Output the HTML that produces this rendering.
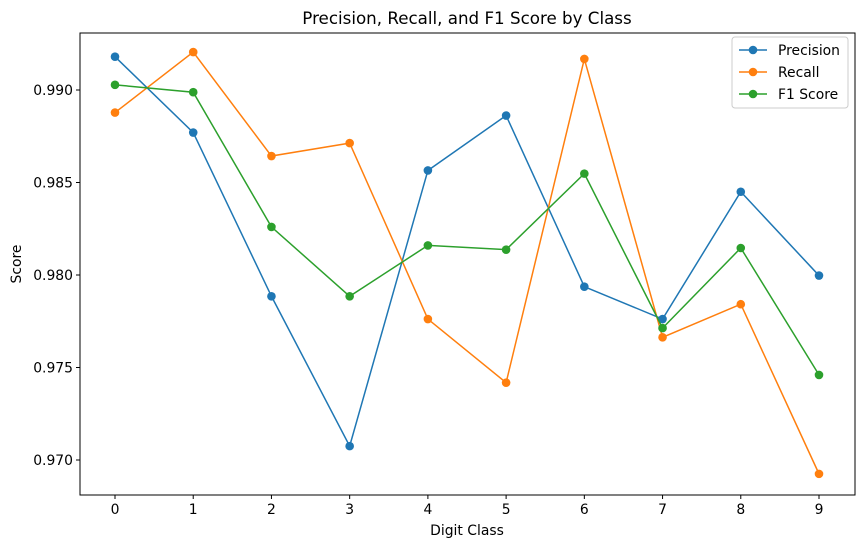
<!DOCTYPE html>
<html><head><meta charset="utf-8"><style>
body{margin:0;background:#fff;font-family:"Liberation Sans","DejaVu Sans",sans-serif}
text{font-family:"DejaVu Sans","Liberation Sans",sans-serif}
</style></head><body>
<svg id="chart" width="863" height="547" xmlns="http://www.w3.org/2000/svg"></svg>
<script>
const categories=[0,1,2,3,4,5,6,7,8,9];
const precision=[0.99180,0.98770,0.97885,0.97075,0.98565,0.98862,0.97937,0.97762,0.98450,0.97997];
const recall=[0.98878,0.99205,0.98643,0.98713,0.97762,0.97418,0.99168,0.97663,0.97842,0.96925];
const f1=[0.99028,0.98988,0.98260,0.97885,0.98160,0.98137,0.98548,0.97713,0.98146,0.97460];
const yTicks=[0.970,0.975,0.980,0.985,0.990];
const seriesNames=["Precision","Recall","F1 Score"];
const colors=["#1f77b4","#ff7f0e","#2ca02c"];
const L=80,R=855,T=33,B=495;
const x=v=>115+(v-0)*(819-115)/9;
const y=v=>460-(v-0.970)*(460-90)/0.020;
const svg=document.getElementById('chart');
const NS="http://www.w3.org/2000/svg";
function mk(t,a,p){const e=document.createElementNS(NS,t);for(const k in a)e.setAttribute(k,a[k]);(p||svg).appendChild(e);return e;}
let e;
e=mk('rect',{x:L,y:T,width:R-L,height:B-T,fill:'none',stroke:'#000','stroke-width':1});


categories.forEach(c=>{
 mk('line',{x1:x(c),x2:x(c),y1:B,y2:B+4,stroke:'#000'});
 e=mk('text',{x:x(c),y:B+19,'text-anchor':'middle','font-size':13.9,fill:'#000'});e.textContent=c;
 
 
});
yTicks.forEach(t=>{
 mk('line',{x1:L-4,x2:L,y1:y(t),y2:y(t),stroke:'#000'});
 e=mk('text',{x:L-7,y:y(t)+5,'text-anchor':'end','font-size':13.9,fill:'#000'});e.textContent=t.toFixed(3);
 
 
});
e=mk('text',{x:467,y:24,'text-anchor':'middle','font-size':16.7});e.textContent='Precision, Recall, and F1 Score by Class';


e=mk('text',{x:467,y:535,'text-anchor':'middle','font-size':13.9});e.textContent='Digit Class';


e=mk('text',{x:21,y:264,'text-anchor':'middle','font-size':13.9,transform:'rotate(-90 21 264)'});e.textContent='Score';


[precision,recall,f1].forEach((s,i)=>{
 const g=mk('g',{});
 
 
 mk('polyline',{points:s.map((v,j)=>x(categories[j])+','+y(v)).join(' '),fill:'none',stroke:colors[i],'stroke-width':1.5},g);
 s.forEach((v,j)=>{const c=mk('circle',{cx:x(categories[j]),cy:y(v),r:4.3,fill:colors[i]},g);
  
  });
});
const lg=mk('g',{});


mk('rect',{x:732,y:37,width:116,height:71,rx:3,fill:'#fff',stroke:'#ccc'},lg);
seriesNames.forEach((n,i)=>{
 const yy=50+i*22;
 const g=mk('g',{},lg);
 
 
 mk('line',{x1:739,x2:767,y1:yy,y2:yy,stroke:colors[i],'stroke-width':1.5},g);
 mk('circle',{cx:753,cy:yy,r:4.3,fill:colors[i]},g);
 const t=mk('text',{x:778,y:yy+5,'font-size':13.9},g);t.textContent=n;
});
</script>
</body></html>
